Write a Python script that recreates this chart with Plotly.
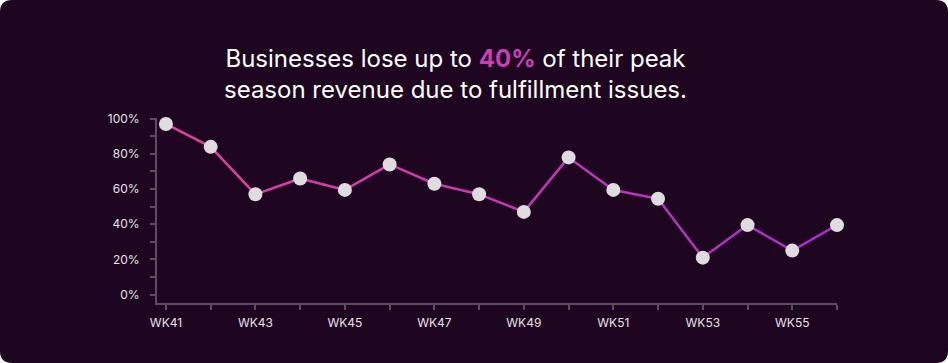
import plotly.graph_objects as go

weeks = ["WK41", "WK42", "WK43", "WK44", "WK45", "WK46", "WK47", "WK48",
         "WK49", "WK50", "WK51", "WK52", "WK53", "WK54", "WK55", "WK56"]
values = [97, 84, 57, 66, 59.5, 74, 63, 57, 47, 78, 59.5, 54.5, 21, 39.5, 25, 39.5]
y_ticks = [0, 20, 40, 60, 80, 100]
y_labels = ["0%", "20%", "40%", "60%", "80%", "100%"]

BG = "#1e0620"
AXIS = "#5e4c60"
TXT = "#e6e1e6"
C0 = (226, 66, 156)
C1 = (166, 47, 204)

def mix(t):
    return "rgb(%d,%d,%d)" % tuple(round(a + (b - a) * t) for a, b in zip(C0, C1))

idx = list(range(len(weeks)))
fig = go.Figure()
n = len(weeks)
for i in range(n - 1):
    fig.add_trace(go.Scatter(
        x=[idx[i], idx[i + 1]], y=[values[i], values[i + 1]],
        mode="lines", line=dict(color=mix((i + 0.5) / (n - 1)), width=2.5),
        hoverinfo="skip", showlegend=False, cliponaxis=False))
fig.add_trace(go.Scatter(
    x=idx, y=values, mode="markers",
    marker=dict(size=14, color="#dedcdf", line=dict(width=0)),
    text=weeks, showlegend=False, cliponaxis=False))

W, H = 948, 363
L, R, T, B = 157, 111, 118, 60

fig.update_layout(
    width=W, height=H,
    margin=dict(l=L, r=R, t=T, b=B),
    paper_bgcolor="white", plot_bgcolor="rgba(0,0,0,0)",
    font=dict(family="Inter, Lato, sans-serif", color=TXT, size=12),
)

# rounded card background (in pixel space via paper fractions)
r = 12
pw, ph = W - L - R, H - T - B
def px(xp):
    return (xp - L) / pw
def py(yp):
    return (H - B - yp) / ph
path = (f"M {px(r)} {py(0)} L {px(W - r)} {py(0)} "
        f"Q {px(W)} {py(0)} {px(W)} {py(r)} L {px(W)} {py(H - r)} "
        f"Q {px(W)} {py(H)} {px(W - r)} {py(H)} L {px(r)} {py(H)} "
        f"Q {px(0)} {py(H)} {px(0)} {py(H - r)} L {px(0)} {py(r)} "
        f"Q {px(0)} {py(0)} {px(r)} {py(0)} Z")
fig.layout.shapes = [dict(type="path", xref="paper", yref="paper", layer="below",
                          path=path, fillcolor=BG, line=dict(width=0))]

fig.update_xaxes(
    range=[-0.2, n - 1], showgrid=False, zeroline=False,
    showline=True, linecolor=AXIS, linewidth=2,
    tickmode="array", tickvals=idx,
    ticktext=[w if i % 2 == 0 else "" for i, w in enumerate(weeks)],
    ticks="outside", ticklen=5, tickwidth=2, tickcolor=AXIS,
    tickfont=dict(size=12, color=TXT), ticklabelstandoff=3,
)
fig.update_yaxes(
    range=[-4.8, 100.4], showgrid=False, zeroline=False,
    showline=True, linecolor=AXIS, linewidth=2,
    tickmode="array", tickvals=y_ticks, ticktext=y_labels,
    ticks="outside", ticklen=5, tickwidth=2, tickcolor=AXIS,
    minor=dict(tickmode="array", tickvals=[10, 30, 50, 70, 90],
               ticks="outside", ticklen=5, tickwidth=2, tickcolor=AXIS),
    tickfont=dict(size=12, color=TXT), ticklabelstandoff=8,
)

fig.add_annotation(
    xref="paper", yref="paper", x=px(455), y=py(74),
    xanchor="center", yanchor="middle", showarrow=False,
    text=("Businesses lose up to <b><span style='color:#c93fb6'>40%</span></b> of their peak"
          "<br>season revenue due to fulfillment issues."),
    font=dict(size=24, color="#ffffff", family="Inter, Lato, sans-serif"),
    align="center",
)

fig.write_html("out.html", config={"displayModeBar": False},
               post_script="document.body.style.margin='0';")
